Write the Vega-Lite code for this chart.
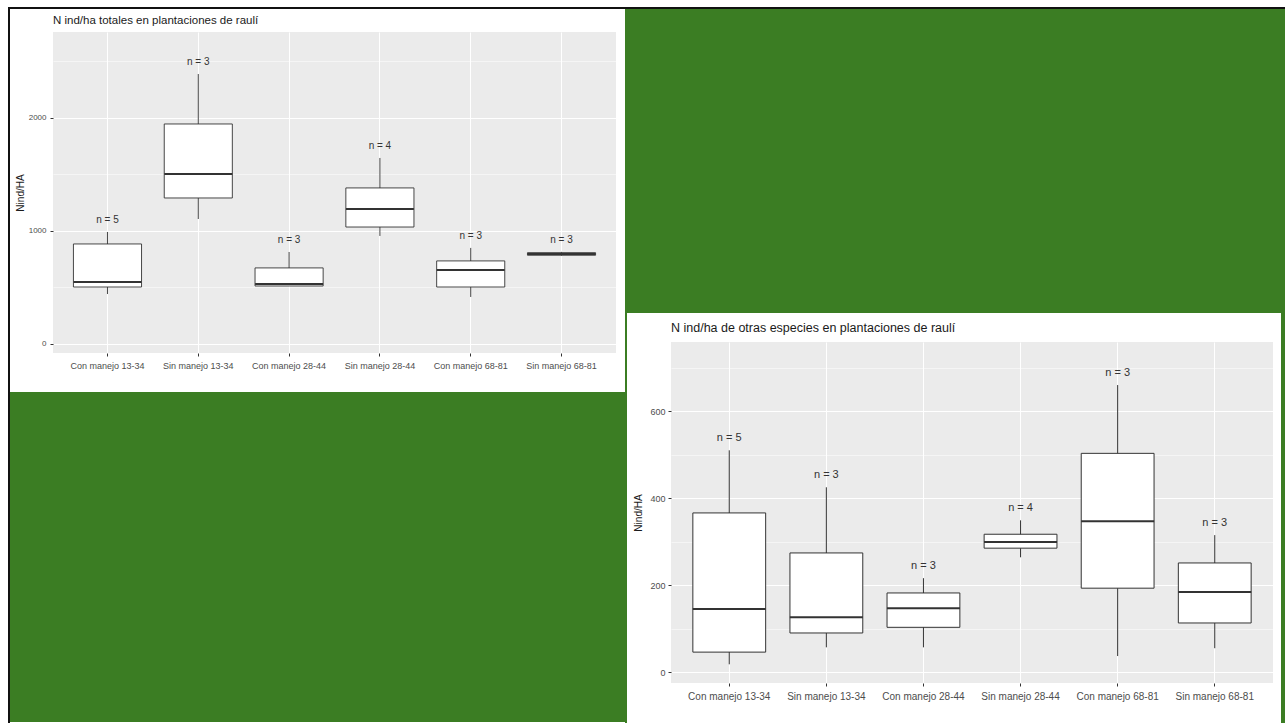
{
  "$schema": "https://vega.github.io/schema/vega-lite/v6.json",
  "background": "white",
  "padding": {"left": 8, "top": 7, "right": 0, "bottom": 0},
  "config": {
    "font": "Liberation Sans",
    "view": {"stroke": null},
    "concat": {"spacing": 0}
  },
  "columns": 1,
  "align": "none",
  "spacing": 0,
  "concat": [
    {
      "width": 1277, "height": 2,
      "view": {"fill": "#111111", "stroke": null},
      "data": {"values": [{}]},
      "mark": {"type": "point", "size": 0, "opacity": 0},
      "encoding": {}
    },
    {
      "align": "none",
      "spacing": 0,
      "concat": [
        {
          "width": 2, "height": 714,
          "view": {"fill": "#111111", "stroke": null},
          "data": {"values": [{}]},
          "mark": {"type": "point", "size": 0, "opacity": 0},
          "encoding": {}
        },
        {
          "align": "none",
          "spacing": 0,
          "concat": [
            {
              "columns": 1,
              "align": "none",
              "spacing": 0,
              "concat": [
                {
                  "width": 1, "height": 5,
                  "data": {"values": [{}]},
                  "mark": {"type": "point", "size": 0, "opacity": 0},
                  "encoding": {}
                },
                {
                  "align": "none",
                  "spacing": 0,
                  "concat": [
                    {
                      "width": 5, "height": 1,
                      "data": {"values": [{}]},
                      "mark": {"type": "point", "size": 0, "opacity": 0},
                      "encoding": {}
                    },
                    {
                      "width": 563,
                      "height": 321,
                      "view": {"fill": "#EBEBEB", "stroke": null},
                      "title": {
                        "text": "N ind/ha totales en plantaciones de raulí",
                        "anchor": "start",
                        "frame": "group",
                        "fontSize": 11.5,
                        "fontWeight": "normal",
                        "color": "#1a1a1a",
                        "offset": 6
                      },
                      "data": {
                        "values": [
                          {"grupo": "Con manejo 13-34", "minimo": 442, "q1": 504, "mediana": 549, "q3": 885, "maximo": 991, "n": "n = 5"},
                          {"grupo": "Sin manejo 13-34", "minimo": 1106, "q1": 1292, "mediana": 1504, "q3": 1947, "maximo": 2389, "n": "n = 3"},
                          {"grupo": "Con manejo 28-44", "minimo": 513, "q1": 513, "mediana": 531, "q3": 673, "maximo": 814, "n": "n = 3"},
                          {"grupo": "Sin manejo 28-44", "minimo": 956, "q1": 1035, "mediana": 1195, "q3": 1381, "maximo": 1646, "n": "n = 4"},
                          {"grupo": "Con manejo 68-81", "minimo": 416, "q1": 504, "mediana": 655, "q3": 735, "maximo": 850, "n": "n = 3"},
                          {"grupo": "Sin manejo 68-81", "minimo": 780, "q1": 785, "mediana": 797, "q3": 808, "maximo": 815, "n": "n = 3"}
                        ]
                      },
                      "encoding": {
                        "x": {
                          "field": "grupo", "type": "nominal", "sort": null, "title": null,
                          "scale": {"paddingInner": 0, "paddingOuter": 0.1},
                          "axis": {
                            "labelAngle": 0, "labelFontSize": 9, "labelColor": "#4d4d4d",
                            "tickColor": "#333333", "tickSize": 3, "labelPadding": 5,
                            "domain": false, "grid": true, "gridColor": "white", "gridWidth": 1,
                            "bandPosition": 0.5
                          }
                        }
                      },
                      "layer": [
                        {
                          "mark": {"type": "rule", "color": "#333333", "strokeWidth": 0.9, "opacity": 1},
                          "encoding": {
                            "y": {
                              "field": "minimo", "type": "quantitative", "title": "Nind/HA",
                              "scale": {"domain": [-80, 2761], "nice": false, "zero": false},
                              "axis": {
                                "values": [0, 500, 1000, 1500, 2000, 2500],
                                "format": "d",
                                "labelExpr": "datum.value % 1000 === 0 ? datum.label : ''",
                                "labelOverlap": false,
                                "labelFontSize": 8, "labelColor": "#4d4d4d", "labelPadding": 4,
                                "tickColor": "#333333", "tickSize": 3,
                                "tickOpacity": {"condition": {"test": "datum.value % 1000 !== 0", "value": 0}, "value": 1},
                                "domain": false, "grid": true, "gridColor": "white",
                                "gridWidth": {"condition": {"test": "datum.value % 1000 !== 0", "value": 0.5}, "value": 1},
                                "titleFontSize": 10, "titleFontWeight": "normal", "titleColor": "#1a1a1a", "titlePadding": 3
                              }
                            },
                            "y2": {"field": "maximo"}
                          }
                        },
                        {
                          "mark": {"type": "bar", "fill": "white", "stroke": "#333333", "strokeWidth": 0.9, "opacity": 1, "width": {"band": 0.75}},
                          "encoding": {
                            "y": {"field": "q1", "type": "quantitative", "title": "Nind/HA"},
                            "y2": {"field": "q3"}
                          }
                        },
                        {
                          "mark": {"type": "tick", "color": "#333333", "thickness": 2, "size": 68, "opacity": 1},
                          "encoding": {
                            "y": {"field": "mediana", "type": "quantitative", "title": "Nind/HA"}
                          }
                        },
                        {
                          "mark": {"type": "text", "dy": -12, "fontSize": 10, "color": "#333333"},
                          "encoding": {
                            "y": {"field": "maximo", "type": "quantitative", "title": "Nind/HA"},
                            "text": {"field": "n"}
                          }
                        }
                      ]
                    }
                  ]
                },
                {
                  "width": 1, "height": 22,
                  "data": {"values": [{}]},
                  "mark": {"type": "point", "size": 0, "opacity": 0},
                  "encoding": {}
                },
                {
                  "width": 615, "height": 330,
                  "view": {"fill": "#3B7D23", "stroke": null},
                  "data": {"values": [{}]},
                  "mark": {"type": "point", "size": 0, "opacity": 0},
                  "encoding": {}
                }
              ]
            },
            {
              "columns": 1,
              "align": "none",
              "spacing": 0,
              "concat": [
                {
                  "width": 660, "height": 304,
                  "view": {"fill": "#3B7D23", "stroke": null},
                  "data": {"values": [{}]},
                  "mark": {"type": "point", "size": 0, "opacity": 0},
                  "encoding": {}
                },
                {
                  "align": "none",
                  "spacing": 0,
                  "concat": [
                    {
                      "width": 2, "height": 410,
                      "view": {"fill": "#3B7D23", "stroke": null},
                      "data": {"values": [{}]},
                      "mark": {"type": "point", "size": 0, "opacity": 0},
                      "encoding": {}
                    },
                    {
                      "width": 6, "height": 1,
                      "data": {"values": [{}]},
                      "mark": {"type": "point", "size": 0, "opacity": 0},
                      "encoding": {}
                    },
                    {
                      "columns": 1,
                      "align": "none",
                      "spacing": 0,
                      "concat": [
                        {
                          "width": 1, "height": 8,
                          "data": {"values": [{}]},
                          "mark": {"type": "point", "size": 0, "opacity": 0},
                          "encoding": {}
                        },
                        {
                          "width": 602,
                          "height": 341,
                          "view": {"fill": "#EBEBEB", "stroke": null},
                          "title": {
                            "text": "N ind/ha de otras especies en plantaciones de raulí",
                            "anchor": "start",
                            "frame": "group",
                            "fontSize": 12.5,
                            "fontWeight": "normal",
                            "color": "#1a1a1a",
                            "offset": 8
                          },
                          "data": {
                            "values": [
                              {"grupo": "Con manejo 13-34", "minimo": 18, "q1": 46, "mediana": 145, "q3": 366, "maximo": 510, "n": "n = 5"},
                              {"grupo": "Sin manejo 13-34", "minimo": 57, "q1": 90, "mediana": 126, "q3": 274, "maximo": 425, "n": "n = 3"},
                              {"grupo": "Con manejo 28-44", "minimo": 57, "q1": 103, "mediana": 147, "q3": 182, "maximo": 216, "n": "n = 3"},
                              {"grupo": "Sin manejo 28-44", "minimo": 264, "q1": 285, "mediana": 299, "q3": 317, "maximo": 349, "n": "n = 4"},
                              {"grupo": "Con manejo 68-81", "minimo": 37, "q1": 193, "mediana": 347, "q3": 503, "maximo": 660, "n": "n = 3"},
                              {"grupo": "Sin manejo 68-81", "minimo": 55, "q1": 113, "mediana": 184, "q3": 251, "maximo": 315, "n": "n = 3"}
                            ]
                          },
                          "encoding": {
                            "x": {
                              "field": "grupo", "type": "nominal", "sort": null, "title": null,
                              "scale": {"paddingInner": 0, "paddingOuter": 0.1},
                              "axis": {
                                "labelAngle": 0, "labelFontSize": 10, "labelColor": "#4d4d4d",
                                "tickColor": "#333333", "tickSize": 3, "labelPadding": 5,
                                "domain": false, "grid": true, "gridColor": "white", "gridWidth": 1,
                                "bandPosition": 0.5
                              }
                            }
                          },
                          "layer": [
                            {
                              "mark": {"type": "rule", "color": "#333333", "strokeWidth": 1, "opacity": 1},
                              "encoding": {
                                "y": {
                                  "field": "minimo", "type": "quantitative", "title": "Nind/HA",
                                  "scale": {"domain": [-25, 759], "nice": false, "zero": false},
                                  "axis": {
                                    "values": [0, 100, 200, 300, 400, 500, 600, 700],
                                    "format": "d",
                                    "labelExpr": "datum.value % 200 === 0 ? datum.label : ''",
                                    "labelOverlap": false,
                                    "labelFontSize": 9, "labelColor": "#4d4d4d", "labelPadding": 3,
                                    "tickColor": "#333333", "tickSize": 3,
                                    "tickOpacity": {"condition": {"test": "datum.value % 200 !== 0", "value": 0}, "value": 1},
                                    "domain": false, "grid": true, "gridColor": "white",
                                    "gridWidth": {"condition": {"test": "datum.value % 200 !== 0", "value": 0.5}, "value": 1},
                                    "titleFontSize": 10, "titleFontWeight": "normal", "titleColor": "#1a1a1a", "titlePadding": 6
                                  }
                                },
                                "y2": {"field": "maximo"}
                              }
                            },
                            {
                              "mark": {"type": "bar", "fill": "white", "stroke": "#333333", "strokeWidth": 1, "opacity": 1, "width": {"band": 0.75}},
                              "encoding": {
                                "y": {"field": "q1", "type": "quantitative", "title": "Nind/HA"},
                                "y2": {"field": "q3"}
                              }
                            },
                            {
                              "mark": {"type": "tick", "color": "#333333", "thickness": 2, "size": 73, "opacity": 1},
                              "encoding": {
                                "y": {"field": "mediana", "type": "quantitative", "title": "Nind/HA"}
                              }
                            },
                            {
                              "mark": {"type": "text", "dy": -12, "fontSize": 11, "color": "#333333"},
                              "encoding": {
                                "y": {"field": "maximo", "type": "quantitative", "title": "Nind/HA"},
                                "text": {"field": "n"}
                              }
                            }
                          ]
                        }
                      ]
                    },
                    {
                      "width": 8, "height": 1,
                      "data": {"values": [{}]},
                      "mark": {"type": "point", "size": 0, "opacity": 0},
                      "encoding": {}
                    },
                    {
                      "width": 5, "height": 410,
                      "view": {"fill": "#3B7D23", "stroke": null},
                      "data": {"values": [{}]},
                      "mark": {"type": "point", "size": 0, "opacity": 0},
                      "encoding": {}
                    }
                  ]
                }
              ]
            }
          ]
        }
      ]
    }
  ]
}
